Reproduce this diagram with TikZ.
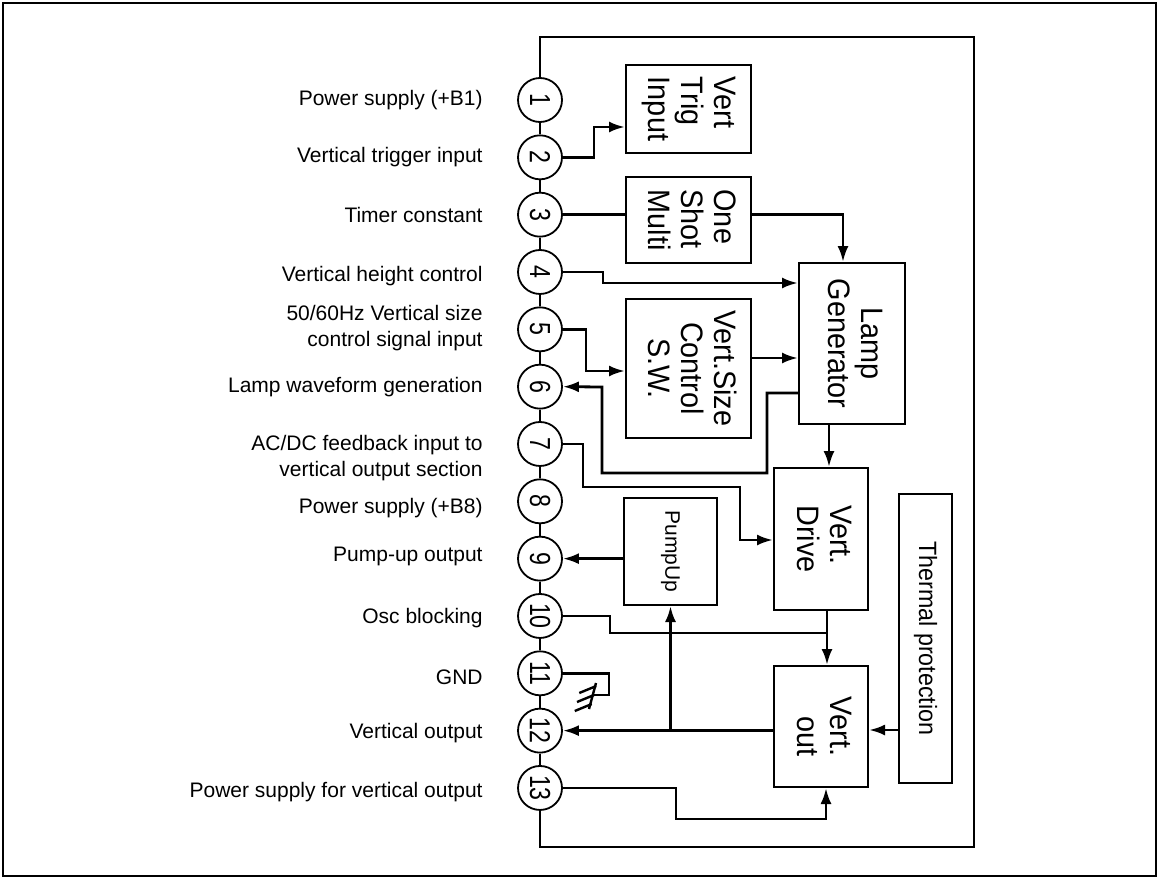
\documentclass[tikz,border=0pt]{standalone}
\usepackage{fontspec}
\setmainfont{Liberation Sans}
\newfontfamily\blockfont[FakeStretch=0.93]{Liberation Sans}
\newfontfamily\pinfont[FakeStretch=0.8]{Liberation Sans}
\usetikzlibrary{arrows.meta}

\begin{document}
\begin{tikzpicture}[x=0.5pt, y=-0.5pt,
    >={Latex[length=8pt,width=5.5pt]},
    pinc/.style={circle, draw, line width=0.9pt, fill=white, minimum size=22pt,
      inner sep=0pt, font=\pinfont\fontsize{14.5}{14}\selectfont},
    blk/.style={draw, line width=1pt, inner sep=0pt,
      font=\blockfont\fontsize{15.5}{16.5}\selectfont},
    lbl/.style={anchor=east, align=right, inner sep=0pt,
      font=\fontsize{10.5}{13}\selectfont},
    conn/.style={line width=1.4pt}]
    \useasboundingbox (0,0) rectangle (1161,878);
    % Frame
    \draw[line width=0.9pt] (3,3) rectangle (1156,876);
    % Pins
    \foreach \n in {1,...,13}
      \node[pinc] (p\n) at (540,{100+57.33*(\n-1)}) {\rotatebox{-90}{\n}};
    \foreach \a [count=\b from 2] in {1,...,12}
      \draw[line width=1pt] (p\a.south) -- (p\b.north);
    % IC outline
    \coordinate (icne) at (974,37);
    \coordinate (icse) at (974,847);
    \draw[conn] (p1.north) |- (icne) -- (icse) -| (p13.south);
    % Pin labels
    \node[lbl] (l1) at (483,100) {Power supply (+B1)};
    \node[lbl] (l2) at (483,157) {Vertical trigger input};
    \node[lbl] (l3) at (483,215) {Timer constant};
    \node[lbl] (l4) at (483,276) {Vertical height control};
    \node[lbl] (l5) at (483,328) {50/60Hz Vertical size\hspace{3pt}\\control signal input};
    \node[lbl] (l6) at (483,387) {Lamp waveform generation};
    \node[lbl] (l7) at (483,458) {AC/DC feedback input to\\vertical output section};
    \node[lbl] (l8) at (483,508) {Power supply (+B8)};
    \node[lbl] (l9) at (483,556) {Pump-up output};
    \node[lbl] (l10) at (483,618) {Osc blocking};
    \node[lbl] (l11) at (483,677) {GND};
    \node[lbl] (l12) at (483,733) {Vertical output};
    \node[lbl] (l13) at (483,792) {Power supply for vertical output};
    % Blocks
    \node[blk, minimum width=62.5pt, minimum height=44pt] (trig) at (688.5,109)
      {\rotatebox{-90}{\begin{tabular}{@{}l@{}}Vert\\Trig\\Input\end{tabular}}};
    \node[blk, minimum width=62.5pt, minimum height=43pt] (shot) at (688.5,220)
      {\rotatebox{-90}{\begin{tabular}{@{}l@{}}One\\Shot\\Multi\end{tabular}}};
    \node[blk, minimum width=62.5pt, minimum height=69.5pt] (size) at (688.5,368.5)
      {\rotatebox{-90}{\begin{tabular}{@{}c@{}}Vert.Size\\Control\\S.W.\end{tabular}}};
    \node[blk, minimum width=53pt, minimum height=80.5pt] (lamp) at (852,343.5)
      {\rotatebox{-90}{\begin{tabular}{@{}c@{}}Lamp\\Generator\end{tabular}}};
    \node[blk, minimum width=47pt, minimum height=71pt] (drive) at (821,539)
      {\rotatebox{-90}{\begin{tabular}{@{}l@{}}Vert.\\Drive\end{tabular}}};
    \node[blk, minimum width=46.5pt, minimum height=53.5pt,
      font=\fontsize{10.5}{12}\selectfont] (pump) at (670.5,551.5)
      {\rotatebox{-90}{PumpUp}};
    \node[blk, minimum width=47pt, minimum height=60.5pt] (vout) at (821,726.5)
      {\rotatebox{-90}{\begin{tabular}{@{}r@{}}Vert.\\out\end{tabular}}};
    \node[blk, minimum width=26.5pt, minimum height=144.5pt,
      font=\blockfont\fontsize{12.5}{14}\selectfont] (therm) at (925.5,638.5)
      {\rotatebox{-90}{Thermal protection}};
    % Signal paths
    \draw[conn, ->] (p2.east) -| (594,127) -- (trig.west |- 594,127);
    \draw[conn] (p3.east) -- (shot.west |- p3);
    \draw[conn, ->] (shot.east |- p3) -| (lamp.north -| 843,0);
    \draw[conn, ->] (p4.east) -| (603,283) -- (lamp.west |- 603,283);
    \draw[conn, ->] (p5.east) -| (586,371) -- (size.west |- 586,371);
    \draw[conn, ->] (size.east |- 0,358) -- (lamp.west |- 0,358);
    \draw[conn, ->] (lamp.west |- 0,393) -| (767,473) -| (602,387) -- (p6.east);
    \draw[conn, ->] (lamp.south -| 829,0) -- (drive.north -| 829,0);
    \draw[conn, ->] (p7.east) -| (583,487) -| (740,540) -- (drive.west |- 740,540);
    \draw[conn, ->] (pump.west |- p9) -- (p9.east);
    \draw[conn, ->] (drive.south -| 827,0) -- (vout.north -| 827,0);
    \draw[conn] (p10.east) -| (610,633) -- (827,633);
    \draw[conn, ->] (vout.west |- p12) -- (p12.east);
    \draw[conn, ->] (pump.south |- p12) -- (pump.south);
    \draw[conn, ->] (p13.east) -| (676,819) -| (vout.south -| 826,0);
    \draw[conn, ->] (therm.west |- 0,730) -- (vout.east |- 0,730);
    % GND
    \coordinate (gnd) at (594,695);
    \draw[conn] (p11.east) -| (609,695) -- (gnd);
    \draw[line width=1.2pt] (gnd) ++(2,-12) -- ++(-7,26);
    \foreach \d in {-9,0,9}
      \draw[line width=1.2pt] (gnd) ++({-\d/4},\d) -- ++(-17,7);
\end{tikzpicture}
\end{document}
